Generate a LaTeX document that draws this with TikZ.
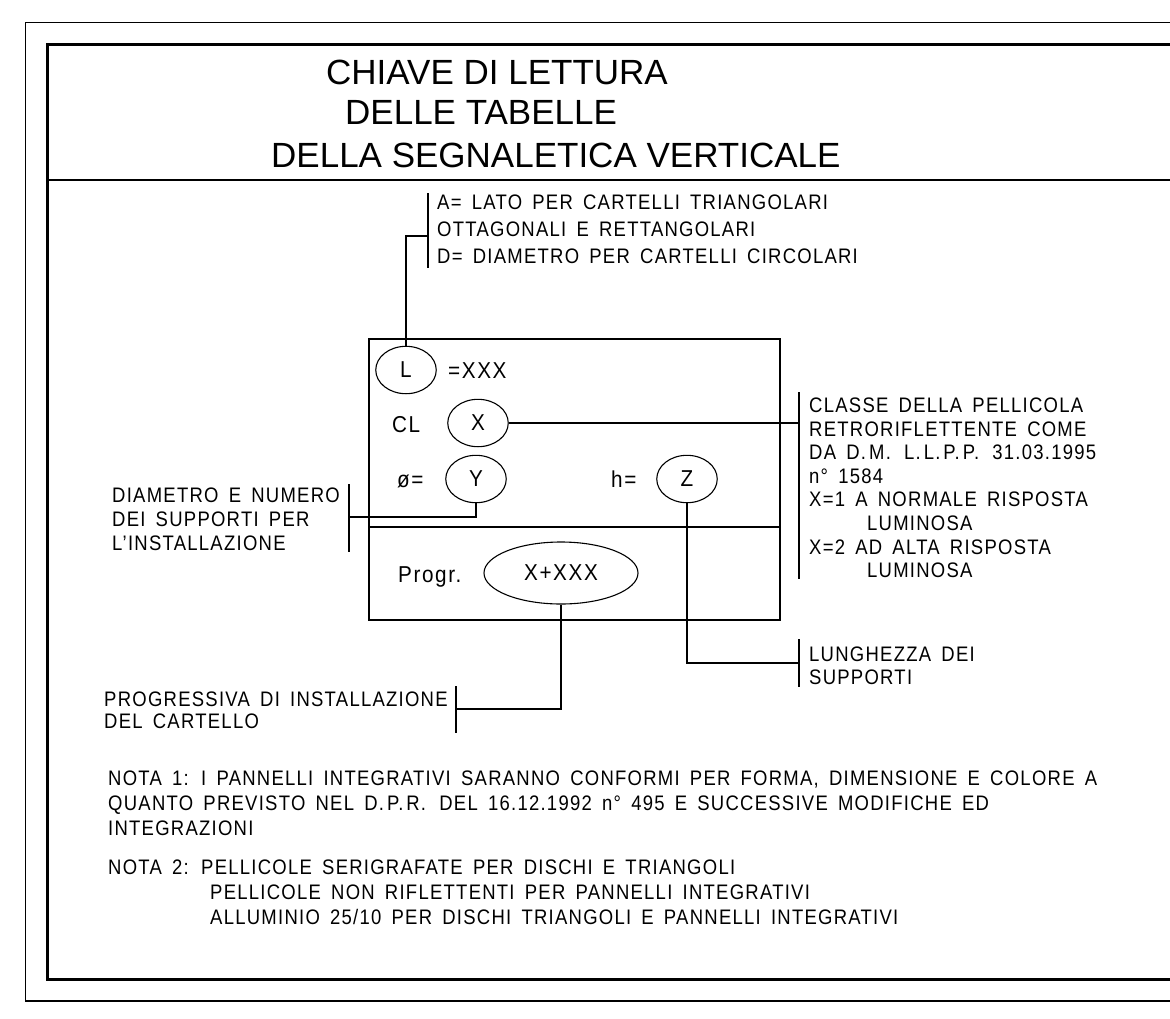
\documentclass[tikz,border=0pt]{standalone}
\usepackage{fontspec}
\setmainfont{Liberation Sans}
\newfontfamily\cadfont[FakeStretch=0.88, LetterSpace=6, WordSpace=1.6]{Liberation Sans}
\newfontfamily\cadboxfont[FakeStretch=0.9, LetterSpace=7, WordSpace=1.6]{Liberation Sans}
\newcommand\pdot{.\kern3pt}
\usetikzlibrary{shapes.geometric}
\begin{document}
\begin{tikzpicture}[x=1pt,y=-1pt,
  txt/.style={anchor=base west, inner sep=0pt, font=\cadfont\fontsize{21}{23.5}\selectfont},
  boxtxt/.style={anchor=base west, inner sep=0pt, font=\cadboxfont\fontsize{23}{26}\selectfont},
  ttl/.style={anchor=base west, inner sep=0pt, font=\fontsize{35}{40}\selectfont},
  ell/.style={draw, ellipse, line width=1.1pt, inner sep=0pt, minimum width=60.5pt, minimum height=47.4pt, font=\cadboxfont\fontsize{23}{26}\selectfont},
  lead/.style={line width=1.1pt},
  brk/.style={line width=1.1pt}]
\useasboundingbox (0,0) rectangle (1170,1018);
\clip (0,0) rectangle (1170,1018);
\fill[white] (0,0) rectangle (1170,1018);
% frames
\draw[line width=1.4pt] (25.5,22.7) rectangle (1200,1001);
\draw[line width=3pt] (47.6,44.7) rectangle (1200,979);
\draw[line width=2pt] (47.6,180) -- (1200,180);
% title
\node[ttl] (t1) at (326,84) {CHIAVE DI LETTURA};
\node[ttl] (t2) at (345,124) {DELLE TABELLE};
\node[ttl] (t3) at (271,167.5) {DELLA SEGNALETICA VERTICALE};
% main box
\draw[line width=1.2pt] (369,339) rectangle (780,620);
\draw[line width=1.2pt] (369,527) -- (780,527);
\node[ell] (L) at (406,370) {L};
\node[boxtxt] (eqx) at (448,378) {=XXX};
\node[boxtxt] (cl) at (392,432) {CL};
\node[ell] (X) at (478,423) {X};
\node[boxtxt] (phi) at (397,487) {ø=};
\node[ell] (Y) at (476,479) {Y};
\node[boxtxt] (h) at (611,487) {h=};
\node[ell] (Z) at (687,479) {Z};
\node[boxtxt] (pr) at (398,582) {Progr.};
\node[ell, minimum width=154pt, minimum height=62pt] (P) at (561,573) {X+XXX};
% bracket A
\draw[brk] (428,193) -- (428,268);
\coordinate (bA) at (428,236);
\node[txt] (a1) at (437,209.5) {A= LATO PER CARTELLI TRIANGOLARI};
\node[txt] (a2) at (437,236.5) {OTTAGONALI E RETTANGOLARI};
\node[txt] (a3) at (437,263.5) {D= DIAMETRO PER CARTELLI CIRCOLARI};
\draw[lead] (L.north) |- (bA);
% bracket C
\draw[brk] (799,392) -- (799,579);
\coordinate (bC) at (799,423);
\node[txt] (c1) at (809,412.5) {CLASSE DELLA PELLICOLA};
\node[txt] (c2) at (809,436.1) {RETRORIFLETTENTE COME};
\node[txt] (c3) at (809,459.7) {DA D\pdot M\pdot{} L\pdot L\pdot P\pdot P\pdot{} 31.03.1995};
\node[txt] (c4) at (809,483.3) {n° 1584};
\node[txt] (c5) at (809,506.9) {X=1 A NORMALE RISPOSTA};
\node[txt] (c6) at (867,530.5) {LUMINOSA};
\node[txt] (c7) at (809,554.1) {X=2 AD ALTA RISPOSTA};
\node[txt] (c8) at (867,577.7) {LUMINOSA};
\draw[lead] (X.east) -- (X.east -| bC);
% bracket D
\draw[brk] (349,484) -- (349,552);
\coordinate (bD) at (349,517);
\node[txt] (d1) at (112,502.5) {DIAMETRO E NUMERO};
\node[txt] (d2) at (112,526) {DEI SUPPORTI PER};
\node[txt] (d3) at (112,550.5) {L’INSTALLAZIONE};
\draw[lead] (Y.south) |- (bD);
% bracket P
\draw[brk] (456,686) -- (456,733);
\coordinate (bP) at (456,709);
\node[txt] (p1) at (104,706) {PROGRESSIVA DI INSTALLAZIONE};
\node[txt] (p2) at (104,728.5) {DEL CARTELLO};
\draw[lead] (P.south) |- (bP);
% bracket LUNGHEZZA
\draw[brk] (799,639) -- (799,687);
\coordinate (bL) at (799,663);
\node[txt] (l1) at (809,661) {LUNGHEZZA DEI};
\node[txt] (l2) at (809,684) {SUPPORTI};
\draw[lead] (Z.south) |- (bL);
% notes
\node[txt] (n1) at (108,785.5) {NOTA 1: I PANNELLI INTEGRATIVI SARANNO CONFORMI PER FORMA, DIMENSIONE E COLORE A};
\node[txt] (n2) at (108,810.5) {QUANTO PREVISTO NEL D\pdot P\pdot R\pdot{} DEL 16.12.1992 n° 495 E SUCCESSIVE MODIFICHE ED};
\node[txt] (n3) at (108,835.5) {INTEGRAZIONI};
\node[txt] (n4) at (108,874) {NOTA 2: PELLICOLE SERIGRAFATE PER DISCHI E TRIANGOLI};
\node[txt] (n5) at (210,899) {PELLICOLE NON RIFLETTENTI PER PANNELLI INTEGRATIVI};
\node[txt] (n6) at (210,924) {ALLUMINIO 25/10 PER DISCHI TRIANGOLI E PANNELLI INTEGRATIVI};
\end{tikzpicture}
\end{document}
